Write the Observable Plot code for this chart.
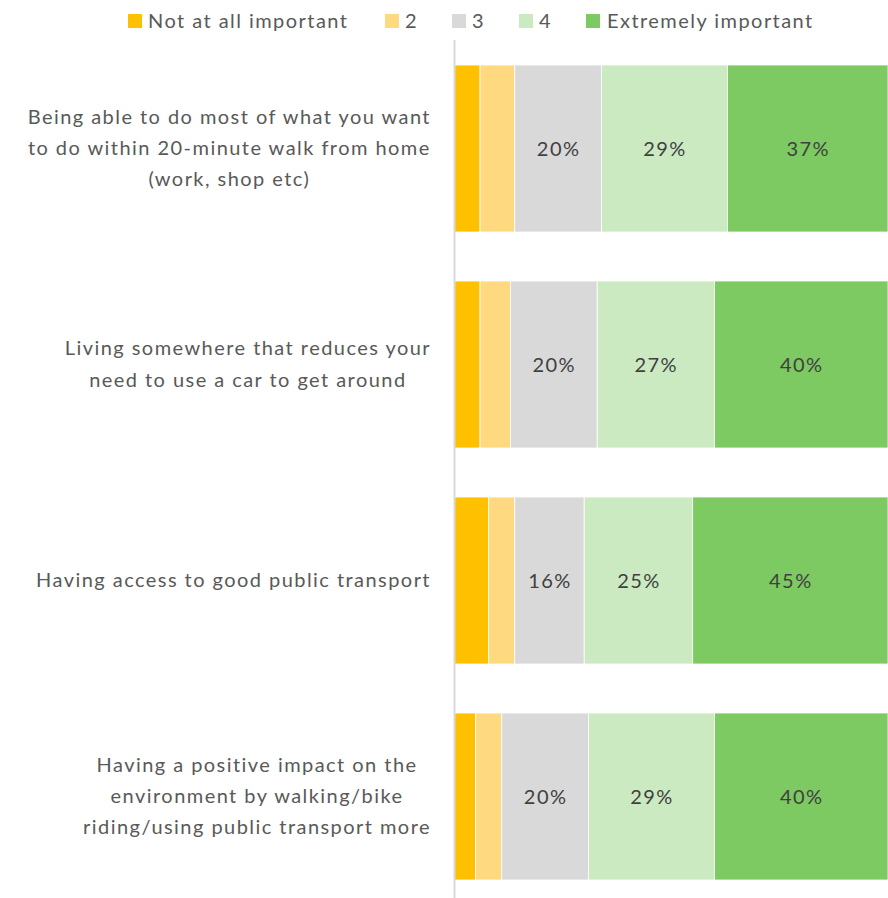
<!DOCTYPE html>
<html>
<head>
<meta charset="utf-8">
<script src="https://cdn.jsdelivr.net/npm/d3@7"></script>
<script src="https://cdn.jsdelivr.net/npm/@observablehq/plot@0.6"></script>
<style>
  body { margin: 0; background: #fff; font-family: Lato, "Open Sans", sans-serif; }
  #legend { position: relative; width: 888px; height: 40px; }
  .sw { position: absolute; top: 14px; width: 14px; height: 14px; }
  .lt { position: absolute; top: 7px; font-size: 20px; line-height: 26px; color: #595959; letter-spacing: 1.45px; white-space: nowrap; }
  svg text { letter-spacing: 1.45px; }
</style>
</head>
<body>
<div id="legend"></div>
<div id="chart"></div>
<script>
const categories = [
  "Being able to do most of what you want\nto do within 20-minute walk from home\n(work, shop etc)",
  "Living somewhere that reduces your\nneed to use a car to get around",
  "Having access to good public transport",
  "Having a positive impact on the\nenvironment by walking/bike\nriding/using public transport more"
];
const levels = ["Not at all important", "2", "3", "4", "Extremely important"];
const colors = ["#FFC000", "#FFD97F", "#D9D9D9", "#CCEAC2", "#7DC962"];
const notAtAll  = [6, 6, 8, 5];
const two       = [8, 7, 6, 6];
const three     = [20, 20, 16, 20];
const four      = [29, 27, 25, 29];
const extremely = [37, 40, 45, 40];
const series = [notAtAll, two, three, four, extremely];

const rows = [];
categories.forEach((c, i) => {
  levels.forEach((l, j) => rows.push({category: c, level: l, value: series[j][i]}));
});

// legend
const legendX = [[128, 148], [385, 405], [452, 472], [519, 539], [586, 607]];
const legend = document.getElementById("legend");
levels.forEach((l, j) => {
  const sw = document.createElement("div");
  sw.className = "sw"; sw.style.left = legendX[j][0] + "px"; sw.style.background = colors[j];
  const t = document.createElement("div");
  t.className = "lt"; t.style.left = legendX[j][1] + "px"; t.textContent = l;
  legend.appendChild(sw); legend.appendChild(t);
});

const plot = Plot.plot({
  width: 888,
  height: 858,
  marginLeft: 454,
  marginRight: 0,
  marginTop: 6,
  marginBottom: 0,
  style: {fontFamily: "Lato, 'Open Sans', sans-serif", fontSize: "20px", background: "white"},
  x: {domain: [0, 100], axis: null},
  y: {domain: categories, paddingInner: 0.228, paddingOuter: 0.0835, axis: null},
  color: {domain: levels, range: colors},
  marks: [
    Plot.barX(rows, Plot.stackX({x: "value", y: "category", z: "level", fill: "level", stroke: "white", strokeWidth: 0.8})),
    Plot.text(rows, Plot.stackX({x: "value", y: "category", z: "level",
      text: d => d.value >= 10 ? d.value + "%" : "", fill: "#404040", fontSize: 20, dy: 1})),
    Plot.text(categories, {y: d => d, text: d => d, frameAnchor: "left", textAnchor: "middle",
      dx: -200, dy: -4, lineHeight: 1.57, fill: "#595959", fontSize: 20}),
    Plot.ruleX([0], {stroke: "#d9d9d9", strokeWidth: 2, insetTop: -6})
  ]
});
document.getElementById("chart").appendChild(plot);

// align each centered label block so its right edge sits at x = 431 (measured as rendered)
const svgLeft = plot.getBoundingClientRect().left;
const flat = new Set(categories.map(c => c.replace(/\n/g, "")));
plot.querySelectorAll("text").forEach(t => {
  if (!flat.has(t.textContent)) return;
  const r = t.getBoundingClientRect();
  const shift = 431 - (r.right - svgLeft);
  const tr = t.getAttribute("transform") || "";
  t.setAttribute("transform", `translate(${shift},0) ${tr}`);
});
</script>
</body>
</html>
